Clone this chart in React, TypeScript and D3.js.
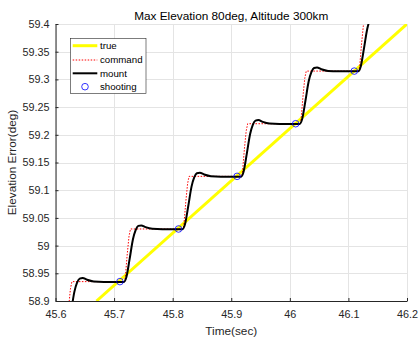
import * as d3 from "d3";
import { useRef, useEffect } from "react";

// axis ticks
const xTicks = [45.6, 45.7, 45.8, 45.9, 46, 46.1, 46.2];
const xTickLabels = ["45.6", "45.7", "45.8", "45.9", "46", "46.1", "46.2"];
const yTicks = [58.9, 58.95, 59, 59.05, 59.1, 59.15, 59.2, 59.25, 59.3, 59.35, 59.4];
const yTickLabels = ["58.9", "58.95", "59", "59.05", "59.1", "59.15", "59.2", "59.25", "59.3", "59.35", "59.4"];

// true elevation (straight line)
const trueTime = [45.67, 46.2];
const trueValue = [58.9, 59.4];

// command (red dotted)
const commandTime = [
  45.618, 45.6195, 45.6225, 45.6255, 45.628,
  45.718, 45.7195, 45.7225, 45.7255, 45.728,
  45.818, 45.8195, 45.8225, 45.8255, 45.828,
  45.918, 45.9195, 45.9225, 45.9255, 45.928,
  46.018, 46.0195, 46.0225, 46.0255, 46.028,
  46.118, 46.1195, 46.1225, 46.1255, 46.128,
];
const commandValue = [
  58.84, 58.852, 58.89, 58.922, 58.935,
  58.935, 58.947, 58.985, 59.017, 59.03,
  59.03, 59.042, 59.08, 59.112, 59.125,
  59.125, 59.137, 59.175, 59.207, 59.22,
  59.22, 59.232, 59.27, 59.302, 59.315,
  59.315, 59.327, 59.365, 59.397, 59.41,
];

// mount (black)
const mountTime = [
  45.6168, 45.6208, 45.6265, 45.6322, 45.6368, 45.6413, 45.6464, 45.6538, 45.6652, 45.6823,
  45.7168, 45.7208, 45.7265, 45.7322, 45.7368, 45.7413, 45.7464, 45.7538, 45.7652, 45.7823,
  45.8168, 45.8208, 45.8265, 45.8322, 45.8368, 45.8413, 45.8464, 45.8538, 45.8652, 45.8823,
  45.9168, 45.9208, 45.9265, 45.9322, 45.9368, 45.9413, 45.9464, 45.9538, 45.9652, 45.9823,
  46.0168, 46.0208, 46.0265, 46.0322, 46.0368, 46.0413, 46.0464, 46.0538, 46.0652, 46.0823,
  46.1168, 46.1208, 46.1265, 46.1322, 46.1368, 46.1413,
];
const mountValue = [
  58.8395, 58.8475, 58.8805, 58.9165, 58.933, 58.9405, 58.9415, 58.9383, 58.9353, 58.9345,
  58.9345, 58.9425, 58.9755, 59.0115, 59.028, 59.0355, 59.0365, 59.0333, 59.0303, 59.0295,
  59.0295, 59.0375, 59.0705, 59.1065, 59.123, 59.1305, 59.1315, 59.1283, 59.1253, 59.1245,
  59.1245, 59.1325, 59.1655, 59.2015, 59.218, 59.2255, 59.2265, 59.2233, 59.2203, 59.2195,
  59.2195, 59.2275, 59.2605, 59.2965, 59.313, 59.3205, 59.3215, 59.3183, 59.3153, 59.3145,
  59.3145, 59.3225, 59.3555, 59.3915, 59.408, 59.4155,
];

// shooting instants (blue circles)
const shootTime = [45.71, 45.81, 45.91, 46.01, 46.11];
const shootValue = [58.935, 59.03, 59.125, 59.22, 59.315];

const legendNames = ["true", "command", "mount", "shooting"];

const font = "'Liberation Sans', Arial, Helvetica, sans-serif";
const ink = "#262626";

export default function App() {
  const width = 419;
  const height = 337;
  const marginLeft = 55.5;
  const marginRight = 12;
  const marginTop = 24;
  const marginBottom = 36;
  const gx = useRef(null);
  const gy = useRef(null);

  const x = d3.scaleLinear([45.6, 46.2], [marginLeft, width - marginRight]);
  const y = d3.scaleLinear([58.9, 59.4], [height - marginBottom, marginTop]);

  const line = d3.line<[number, number]>((d) => x(d[0]), (d) => y(d[1]));
  const smooth = d3.line<[number, number]>((d) => x(d[0]), (d) => y(d[1])).curve(d3.curveMonotoneX);

  const trueData = trueTime.map((t, i) => [t, trueValue[i]] as [number, number]);
  const commandData = commandTime.map((t, i) => [t, commandValue[i]] as [number, number]);
  const mountData = mountTime.map((t, i) => [t, mountValue[i]] as [number, number]);

  useEffect(() => {
    const ax = d3.select(gx.current);
    ax.call(
      d3.axisBottom(x).tickValues(xTicks).tickFormat((_, i) => xTickLabels[i])
        .tickSizeInner(-3).tickSizeOuter(0).tickPadding(9)
    );
    const ay = d3.select(gy.current);
    ay.call(
      d3.axisLeft(y).tickValues(yTicks).tickFormat((_, i) => yTickLabels[i])
        .tickSizeInner(-3).tickSizeOuter(0).tickPadding(6)
    );
    [ax, ay].forEach((g) => {
      g.selectAll("path").attr("stroke", ink);
      g.selectAll("line").attr("stroke", ink);
      g.selectAll("text").attr("fill", ink).attr("font-size", 10.8).attr("font-family", font);
    });
  }, []);

  const x0 = x.range()[0], x1 = x.range()[1];
  const y0 = y.range()[1], y1 = y.range()[0];
  const legendY = [45.7, 60, 73.3, 86.7];

  return (
    <svg width={width} height={height} style={{ position: "absolute", left: 0, top: 0, background: "#fff" }}>
      <defs>
        <clipPath id="plot">
          <rect x={x0} y={y0} width={x1 - x0} height={y1 - y0} />
        </clipPath>
      </defs>
      <g stroke="#e4e4e4" strokeWidth={1}>
        {xTicks.map((t) => (
          <line key={"gx" + t} x1={Math.round(x(t)) + 0.5} x2={Math.round(x(t)) + 0.5} y1={y0} y2={y1} />
        ))}
        {yTicks.map((t) => (
          <line key={"gy" + t} x1={x0} x2={x1} y1={Math.round(y(t)) + 0.5} y2={Math.round(y(t)) + 0.5} />
        ))}
      </g>
      <g clipPath="url(#plot)">
        <path d={line(trueData) ?? ""} fill="none" stroke="#ffff00" strokeWidth={3} />
        <path d={line(commandData) ?? ""} fill="none" stroke="#ff0000" strokeWidth={1} strokeDasharray="1.5,1.5" />
        <path d={smooth(mountData) ?? ""} fill="none" stroke="#000" strokeWidth={2} />
        {shootTime.map((t, i) => (
          <circle key={i} cx={x(t)} cy={y(shootValue[i])} r={3.3} fill="none" stroke="#0000ff" strokeWidth={0.8} />
        ))}
      </g>
      <g ref={gx} transform={`translate(0,${y1})`} />
      <g ref={gy} transform={`translate(${x0},0)`} />
      <text x={(x0 + x1) / 2} y={15.5} textAnchor="middle" dy="0.35em" fontFamily={font} fontSize={11.8} fill="#000">
        Max Elevation 80deg, Altitude 300km
      </text>
      <text x={(x0 + x1) / 2} y={331} textAnchor="middle" dy="0.35em" fontFamily={font} fontSize={11.8} fill={ink}>
        Time(sec)
      </text>
      <text transform={`translate(12,${(y0 + y1) / 2}) rotate(-90)`} textAnchor="middle" dy="0.35em" fontFamily={font} fontSize={11.8} fill={ink}>
        Elevation Error(deg)
      </text>
      <g fontFamily={font} fontSize={9.7} fill="#000">
        <rect x={70.5} y={38.5} width={75.5} height={55} fill="#fff" stroke={ink} strokeWidth={0.6} />
        <line x1={72.7} x2={97.3} y1={legendY[0]} y2={legendY[0]} stroke="#ffff00" strokeWidth={3} />
        <line x1={72.7} x2={97.3} y1={legendY[1]} y2={legendY[1]} stroke="#ff0000" strokeWidth={1} strokeDasharray="1.5,1.5" />
        <line x1={72.7} x2={97.3} y1={legendY[2]} y2={legendY[2]} stroke="#000" strokeWidth={2} />
        <circle cx={85} cy={legendY[3]} r={3.3} fill="none" stroke="#0000ff" strokeWidth={0.8} />
        {legendNames.map((n, i) => (
          <text key={n} x={100} y={legendY[i]} dy="0.35em">{n}</text>
        ))}
      </g>
    </svg>
  );
}
